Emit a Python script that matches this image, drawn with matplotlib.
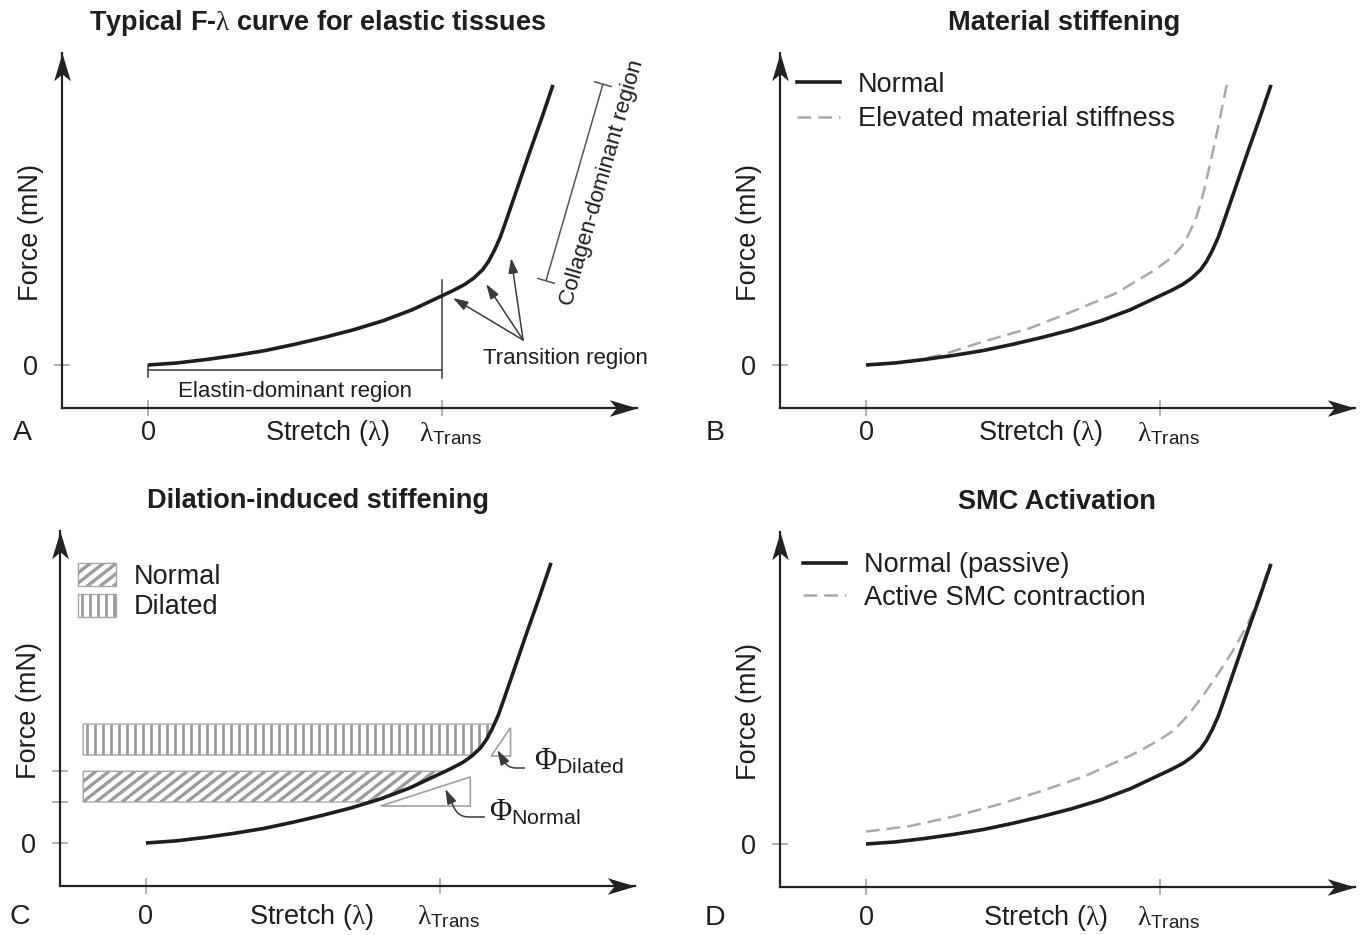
import numpy as np
import matplotlib
matplotlib.use("Agg")
import matplotlib.pyplot as plt
from matplotlib.path import Path
from matplotlib.patches import Polygon, FancyArrowPatch
from matplotlib.collections import LineCollection
from matplotlib.lines import Line2D

plt.rcParams["font.family"] = ["Liberation Sans", "DejaVu Sans"]
plt.rcParams["mathtext.fontset"] = "custom"
plt.rcParams["mathtext.rm"] = "Liberation Serif"
plt.rcParams["mathtext.it"] = "Liberation Serif:italic"
plt.rcParams["mathtext.bf"] = "Liberation Serif:bold"
plt.rcParams["mathtext.sf"] = "Liberation Sans"

# ---------------------------------------------------------------------------
# Curves: stretch in units of lambda_Trans, force in arbitrary units
# ---------------------------------------------------------------------------
NORMAL_STRETCH = [0.00, 0.10, 0.20, 0.30, 0.40, 0.50, 0.60, 0.70, 0.80, 0.90,
                  1.00, 1.04, 1.08, 1.11, 1.14, 1.16, 1.18, 1.20, 1.22, 1.25,
                  1.30, 1.34, 1.38]
NORMAL_FORCE = [0.00, 0.03, 0.08, 0.14, 0.21, 0.30, 0.40, 0.51, 0.64, 0.80,
                1.00, 1.08, 1.17, 1.26, 1.38, 1.50, 1.66, 1.85, 2.09, 2.46,
                3.08, 3.56, 4.06]

ELEVATED_STRETCH = [0.00, 0.15, 0.26, 0.40, 0.556, 0.70, 0.852, 0.985, 1.03,
                    1.05, 1.074, 1.088, 1.10, 1.113, 1.126, 1.138, 1.15, 1.17,
                    1.20, 1.229]
ELEVATED_FORCE = [0.00, 0.05, 0.15, 0.34, 0.53, 0.77, 1.04, 1.38, 1.52,
                  1.60, 1.71, 1.80, 1.90, 2.02, 2.15, 2.31, 2.50, 2.87,
                  3.45, 4.06]

ACTIVE_STRETCH = [0.00, 0.15, 0.30, 0.45, 0.60, 0.75, 0.90, 0.95, 1.00, 1.05,
                  1.10, 1.15, 1.20, 1.25, 1.30, 1.34, 1.376]
ACTIVE_FORCE = [0.18, 0.26, 0.40, 0.57, 0.77, 0.99, 1.28, 1.39, 1.51, 1.65,
                1.88, 2.16, 2.47, 2.80, 3.18, 3.59, 4.06]

# Force bands and slope triangles of the dilation panel
NORMAL_BAND = [0.594, 1.04]
DILATED_BAND = [1.275, 1.725]
BAND_START = -0.214
NORMAL_TRIANGLE = [(0.799, 0.536), (1.105, 0.536), (1.105, 0.957)]
DILATED_TRIANGLE = [(1.176, 1.26), (1.242, 1.26), (1.242, 1.67)]

TITLES = [r"Typical F-$\mathrm{\lambda}$ curve for elastic tissues",
          "Material stiffening", "Dilation-induced stiffening", "SMC Activation"]
LETTERS = ["A", "B", "C", "D"]
X_TICKS = [0, 1]
X_TICK_LABELS = ["0", r"$\mathrm{\lambda}_{\mathsf{Trans}}$"]
X_LABEL = r"Stretch ($\mathrm{\lambda}$)"
Y_LABEL = "Force (mN)"

# ---------------------------------------------------------------------------
# Layout
# ---------------------------------------------------------------------------
W, H, DPI = 1363, 935, 100
XLIM = (-0.294, 1.665)
YLIM = (-0.63, 4.52)
PX_X, PX_Y = 293.5, 69.0          # pixels per data unit
ORIGINS = [(148, 365), (866, 365), (146, 843), (866, 844)]
TITLE_X = [0.579, 0.675, 0.586, 0.651]
XLABEL_X = [0.613, 0.595, 0.565, 0.61]
ROW_Y = [-0.99, -0.99, -1.07, -1.07]

FS = 19.5
FS_SMALL = 16
INK = "#1e1e1e"
AXIS_C = "#222222"
TICK_C = "#9a9a9a"
GRAY_DASH = "#a9a9a9"
HATCH_C = "#9c9c9c"
NOTE_C = "#3a3a3a"

fig = plt.figure(figsize=(W / DPI, H / DPI), dpi=DPI)
fig.patch.set_facecolor("white")

HEAD_RIGHT = Path([(0, 0), (-1, 0.3), (-0.75, 0), (-1, -0.3), (0, 0)],
                  [Path.MOVETO, Path.LINETO, Path.LINETO, Path.LINETO, Path.CLOSEPOLY])
HEAD_UP = Path([(0, 0), (-0.3, -1), (0, -0.75), (0.3, -1), (0, 0)],
               [Path.MOVETO, Path.LINETO, Path.LINETO, Path.LINETO, Path.CLOSEPOLY])


def make_panel(i):
    zx, zy = ORIGINS[i]
    left = zx + XLIM[0] * PX_X
    right = zx + XLIM[1] * PX_X
    top = zy - YLIM[1] * PX_Y
    bottom = zy - YLIM[0] * PX_Y
    ax = fig.add_axes([left / W, 1 - bottom / H, (right - left) / W, (bottom - top) / H])
    ax.set_xlim(XLIM)
    ax.set_ylim(YLIM)
    ax.patch.set_visible(False)
    for s in ("top", "right"):
        ax.spines[s].set_visible(False)
    for s in ("left", "bottom"):
        ax.spines[s].set_linewidth(1.6)
        ax.spines[s].set_color(AXIS_C)
    ax.plot([XLIM[1]], [YLIM[0]], marker=HEAD_RIGHT, ms=40, color=AXIS_C,
            mew=0, clip_on=False, zorder=5)
    ax.plot([XLIM[0]], [YLIM[1]], marker=HEAD_UP, ms=40, color=AXIS_C,
            mew=0, clip_on=False, zorder=5)
    ax.set_xticks(X_TICKS)
    ax.set_xticklabels([])
    ax.tick_params(direction="inout", length=11.5, width=1.1, color=TICK_C,
                   labelsize=FS, pad=11, labelcolor=INK)
    ax.set_yticks([0])
    ax.set_yticklabels(["0"])
    # x-axis row of labels
    ax.text(X_TICKS[0], ROW_Y[i], X_TICK_LABELS[0], ha="center", va="center",
            fontsize=FS, color=INK)
    ax.text(0.925, ROW_Y[i], X_TICK_LABELS[1], ha="left", va="center",
            fontsize=FS, color=INK)
    ax.text(XLABEL_X[i], ROW_Y[i], X_LABEL, ha="center", va="center",
            fontsize=FS, color=INK)
    ax.text(-0.40, 1.92, Y_LABEL, rotation=90, ha="center", va="center",
            fontsize=FS, color=INK)
    letter_x = -0.429 if i in (0, 2) else -0.514
    ax.text(letter_x, ROW_Y[i], LETTERS[i], ha="center", va="center",
            fontsize=20.5, color=INK, clip_on=False)
    ax.text(TITLE_X[i], 4.95, TITLES[i], ha="center", va="center",
            fontsize=FS, fontweight="bold", color=INK, clip_on=False)
    return ax


def draw_curve(ax, x, y, **kw):
    ax.plot(x, y, clip_on=False, solid_capstyle="butt", solid_joinstyle="round", **kw)


def hatch_region(ax, xy, kind):
    poly = Polygon(xy, closed=True, facecolor="white", edgecolor="#a8a8a8",
                   lw=1.0, zorder=1.5)
    ax.add_patch(poly)
    xy = np.asarray(xy)
    xmin, ymin = xy.min(axis=0)
    xmax, ymax = xy.max(axis=0)
    segs = []
    if kind == "diag":
        slope = np.tan(np.radians(38)) * PX_X / PX_Y
        run = (ymax - ymin) / slope
        step = 13.0 / PX_X
        for x0 in np.arange(xmin - run, xmax + step, step):
            segs.append([(x0, ymin), (x0 + run, ymax)])
        width = 2.4
    else:
        step = 8.0 / PX_X
        for x0 in np.arange(xmin + step * 0.5, xmax + step, step):
            segs.append([(x0, ymin), (x0, ymax)])
        width = 2.0
    lc = LineCollection(segs, colors=HATCH_C, linewidths=width, zorder=1.6)
    ax.add_collection(lc)
    lc.set_clip_path(poly)


def band_outline(lo, hi):
    s = np.asarray(NORMAL_STRETCH)
    f = np.asarray(NORMAL_FORCE)
    inside = (f > lo) & (f < hi)
    xs = [BAND_START, np.interp(lo, f, s)] + list(s[inside]) + [np.interp(hi, f, s), BAND_START]
    ys = [lo, lo] + list(f[inside]) + [hi, hi]
    return np.column_stack([xs, ys])


def arrow(ax, start, end, conn="arc3", lw=1.1, scale=9):
    ax.add_patch(FancyArrowPatch(start, end, arrowstyle="-|>,head_length=1.0,head_width=0.32",
                                 connectionstyle=conn, mutation_scale=scale,
                                 color=NOTE_C, lw=lw, shrinkA=0, shrinkB=0,
                                 clip_on=False, zorder=4))


axes = [make_panel(i) for i in range(4)]
SOLID = dict(color=INK, lw=2.6, zorder=3)
DASHED = dict(color=GRAY_DASH, lw=1.8, dashes=(5.5, 2.8), zorder=2.8)

# ---------------- A: typical curve ----------------
ax = axes[0]
draw_curve(ax, NORMAL_STRETCH, NORMAL_FORCE, **SOLID)
# elastin bracket
ax.plot([0, 1], [-0.072, -0.072], color=NOTE_C, lw=1.1)
ax.plot([0, 0], [0.0, -0.174], color=NOTE_C, lw=1.1)
ax.plot([1, 1], [1.23, -0.19], color=NOTE_C, lw=1.1)
ax.text(0.50, -0.377, "Elastin-dominant region", ha="center", va="center",
        fontsize=FS_SMALL, color=INK)
# transition arrows
hub = (1.278, 0.362)
for tip in [(1.039, 0.971), (1.152, 1.174), (1.237, 1.551)]:
    arrow(ax, hub, tip)
ax.text(1.421, 0.10, "Transition region", ha="center", va="center",
        fontsize=FS_SMALL, color=INK)
# collagen bracket
ax.add_patch(FancyArrowPatch((1.356, 1.22), (1.55, 4.07),
                             arrowstyle="|-|,widthA=0.45,widthB=0.45",
                             mutation_scale=14, color="#555555", lw=1.1,
                             shrinkA=0, shrinkB=0, clip_on=False))
ax.text(1.548, 2.64, "Collagen-dominant region", rotation=73.9,
        rotation_mode="anchor", ha="center", va="center",
        fontsize=FS_SMALL, color=INK)

# ---------------- B: material stiffening ----------------
ax = axes[1]
draw_curve(ax, ELEVATED_STRETCH, ELEVATED_FORCE, **DASHED)
draw_curve(ax, NORMAL_STRETCH, NORMAL_FORCE, **SOLID)
ax.legend(handles=[Line2D([], [], **SOLID), Line2D([], [], **DASHED)],
          labels=["Normal", "Elevated material stiffness"],
          loc="upper left", bbox_to_anchor=(0.030, 0.947), frameon=False,
          fontsize=FS, borderpad=0, borderaxespad=0, handlelength=1.6,
          handletextpad=0.65, labelspacing=0.3, labelcolor=INK)

# ---------------- C: dilation-induced stiffening ----------------
ax = axes[2]
ax.set_yticks([0] + NORMAL_BAND)
ax.set_yticklabels(["0", "", ""])
hatch_region(ax, band_outline(*DILATED_BAND), "vert")
hatch_region(ax, band_outline(*NORMAL_BAND), "diag")
for tri in (NORMAL_TRIANGLE, DILATED_TRIANGLE):
    ax.add_patch(Polygon(tri, closed=True, facecolor="none", edgecolor="#a0a0a0",
                         lw=1.2, zorder=2))
draw_curve(ax, NORMAL_STRETCH, NORMAL_FORCE, **SOLID)
# legend swatches
hatch_region(ax, [(-0.232, 3.72), (-0.102, 3.72), (-0.102, 4.06), (-0.232, 4.06)], "diag")
hatch_region(ax, [(-0.232, 3.28), (-0.102, 3.28), (-0.102, 3.61), (-0.232, 3.61)], "vert")
ax.text(-0.041, 3.85, "Normal", ha="left", va="center", fontsize=FS, color=INK)
ax.text(-0.041, 3.42, "Dilated", ha="left", va="center", fontsize=FS, color=INK)
# slope labels
ax.text(1.323, 1.174, r"$\mathrm{\Phi}_{\mathsf{Dilated}}$", ha="left", va="center",
        fontsize=22, color=INK)
ax.text(1.170, 0.449, r"$\mathrm{\Phi}_{\mathsf{Normal}}$", ha="left", va="center",
        fontsize=22, color=INK)
arrow(ax, (1.289, 1.087), (1.197, 1.348), conn="angle,angleA=0,angleB=120,rad=8", scale=9)
arrow(ax, (1.153, 0.377), (1.020, 0.783), conn="angle,angleA=0,angleB=115,rad=10", scale=9)

# ---------------- D: SMC activation ----------------
ax = axes[3]
draw_curve(ax, ACTIVE_STRETCH, ACTIVE_FORCE, **DASHED)
draw_curve(ax, NORMAL_STRETCH, NORMAL_FORCE, **SOLID)
ax.legend(handles=[Line2D([], [], **SOLID), Line2D([], [], **DASHED)],
          labels=["Normal (passive)", "Active SMC contraction"],
          loc="upper left", bbox_to_anchor=(0.0405, 0.944), frameon=False,
          fontsize=FS, borderpad=0, borderaxespad=0, handlelength=1.6,
          handletextpad=0.65, labelspacing=0.25, labelcolor=INK)

fig.savefig("out.png", dpi=DPI, facecolor="white")
